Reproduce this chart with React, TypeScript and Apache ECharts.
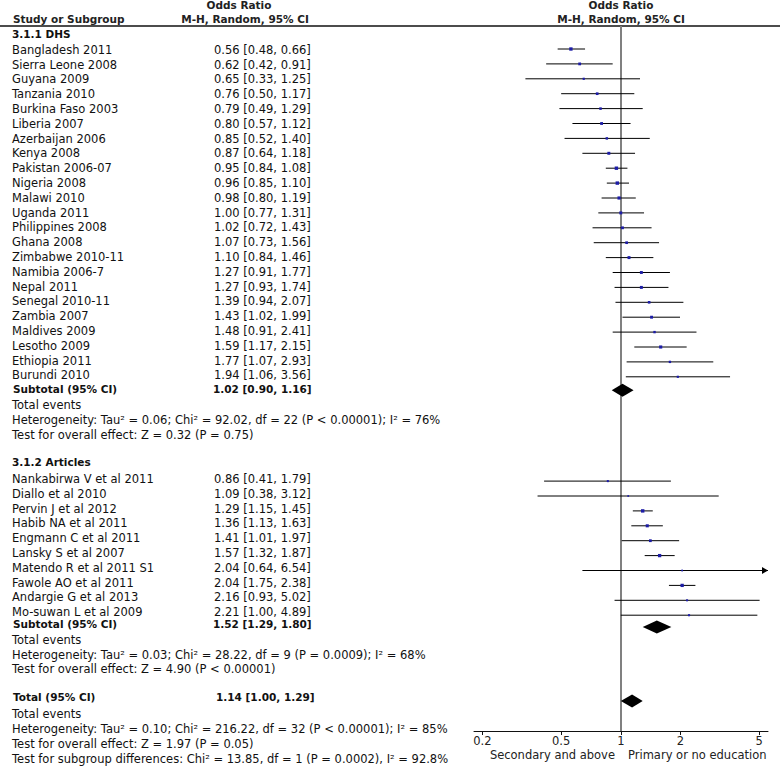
import React, { useEffect, useRef } from 'react';
import * as echarts from 'echarts';

// ---------- data ----------
const dhsStudies = ['Bangladesh 2011', 'Sierra Leone 2008', 'Guyana 2009', 'Tanzania 2010', 'Burkina Faso 2003', 'Liberia 2007', 'Azerbaijan 2006', 'Kenya 2008', 'Pakistan 2006-07', 'Nigeria 2008', 'Malawi 2010', 'Uganda 2011', 'Philippines 2008', 'Ghana 2008', 'Zimbabwe 2010-11', 'Namibia 2006-7', 'Nepal 2011', 'Senegal 2010-11', 'Zambia 2007', 'Maldives 2009', 'Lesotho 2009', 'Ethiopia 2011', 'Burundi 2010'];
const dhsOR = [0.56, 0.62, 0.65, 0.76, 0.79, 0.80, 0.85, 0.87, 0.95, 0.96, 0.98, 1.00, 1.02, 1.07, 1.10, 1.27, 1.27, 1.39, 1.43, 1.48, 1.59, 1.77, 1.94];
const dhsLow = [0.48, 0.42, 0.33, 0.50, 0.49, 0.57, 0.52, 0.64, 0.84, 0.85, 0.80, 0.77, 0.72, 0.73, 0.84, 0.91, 0.93, 0.94, 1.02, 0.91, 1.17, 1.07, 1.06];
const dhsHigh = [0.66, 0.91, 1.25, 1.17, 1.29, 1.12, 1.40, 1.18, 1.08, 1.10, 1.19, 1.31, 1.43, 1.56, 1.46, 1.77, 1.74, 2.07, 1.99, 2.41, 2.15, 2.93, 3.56];
const dhsWeights = [3.9, 2.9, 1.8, 2.7, 2.4, 3.0, 2.3, 3.2, 4.0, 4.0, 3.6, 3.2, 2.9, 2.7, 3.2, 3.1, 3.2, 2.6, 3.1, 2.2, 3.5, 2.1, 1.8];

const artStudies = ['Nankabirwa V et al 2011', 'Diallo et al 2010', 'Pervin J et al 2012', 'Habib NA et al 2011', 'Engmann C et al 2011', 'Lansky S et al 2007', 'Matendo R et al 2011 S1', 'Fawole AO et al 2011', 'Andargie G et al 2013', 'Mo-suwan L et al 2009'];
const artOR = [0.86, 1.09, 1.29, 1.36, 1.41, 1.57, 2.04, 2.04, 2.16, 2.21];
const artLow = [0.41, 0.38, 1.15, 1.13, 1.01, 1.32, 0.64, 1.75, 0.93, 1.00];
const artHigh = [1.79, 3.12, 1.45, 1.63, 1.97, 1.87, 6.54, 2.38, 5.02, 4.89];
const artWeights = [1.6, 0.9, 4.0, 3.4, 2.9, 3.8, 1.0, 3.8, 1.5, 1.7];

// subtotal / total: [OR, low, high]
const dhsSubtotal = [1.02, 0.90, 1.16];
const artSubtotal = [1.52, 1.29, 1.80];
const overallTotal = [1.14, 1.00, 1.29];

const dhsStats = [
  'Total events',
  'Heterogeneity: Tau\u00b2 = 0.06; Chi\u00b2 = 92.02, df = 22 (P < 0.00001); I\u00b2 = 76%',
  'Test for overall effect: Z = 0.32 (P = 0.75)',
];
const artStats = [
  'Total events',
  'Heterogeneity: Tau\u00b2 = 0.03; Chi\u00b2 = 28.22, df = 9 (P = 0.0009); I\u00b2 = 68%',
  'Test for overall effect: Z = 4.90 (P < 0.00001)',
];
const totalStats = [
  'Total events',
  'Heterogeneity: Tau\u00b2 = 0.10; Chi\u00b2 = 216.22, df = 32 (P < 0.00001); I\u00b2 = 85%',
  'Test for overall effect: Z = 1.97 (P = 0.05)',
  'Test for subgroup differences: Chi\u00b2 = 13.85, df = 1 (P = 0.0002), I\u00b2 = 92.8%',
];

const tickValues = [0.2, 0.5, 1, 2, 5];
const tickLabels = ['0.2', '0.5', '1', '2', '5'];

// ---------- layout ----------
const W = 780;
const H = 769;
const ROW_Y0 = 50;
const ROW_H = 14.9;
const NAME_X = 12;
const VALUE_X = 214;
const FONT = '"DejaVu Sans", "Liberation Sans", Arial, sans-serif';
const REG_SIZE = 11.5;
const BOLD_SIZE = 10.5;
const TEXT_COLOR = '#111';

const PLOT_LEFT = 474;
const PLOT_RIGHT = 768;
const PLOT_TOP = 26;
const PLOT_BOTTOM = 731;
const X_MIN = -0.741;
const X_MAX = 0.743;

const fmt = (a: number, b: number, c: number) => `${a.toFixed(2)} [${b.toFixed(2)}, ${c.toFixed(2)}]`;

// rows
const DHS_HEAD_ROW = -1.05;
const DHS_START = 0;
const DHS_SUB_ROW = 22.9;
const DHS_STAT_ROWS = [24, 25, 26];
const ART_HEAD_ROW = 27.85;
const ART_START = 29;
const ART_SUB_ROW = 38.8;
const ART_STAT_ROWS = [39.9, 40.9, 41.85];
const TOTAL_ROW = 43.75;
const TOTAL_STAT_ROWS = [44.9, 45.9, 46.9, 47.9];

type TextRow = { x: number; row: number; text: string; bold: boolean };
const textRows: TextRow[] = [];
textRows.push({ x: NAME_X, row: DHS_HEAD_ROW, text: '3.1.1 DHS', bold: true });
dhsStudies.forEach((s, i) => {
  textRows.push({ x: NAME_X, row: DHS_START + i, text: s, bold: false });
  textRows.push({ x: VALUE_X, row: DHS_START + i, text: fmt(dhsOR[i], dhsLow[i], dhsHigh[i]), bold: false });
});
textRows.push({ x: NAME_X + 1, row: DHS_SUB_ROW, text: 'Subtotal (95% CI)', bold: true });
textRows.push({ x: VALUE_X - 1, row: DHS_SUB_ROW, text: fmt(dhsSubtotal[0], dhsSubtotal[1], dhsSubtotal[2]), bold: true });
dhsStats.forEach((s, i) => textRows.push({ x: NAME_X, row: DHS_STAT_ROWS[i], text: s, bold: false }));
textRows.push({ x: NAME_X, row: ART_HEAD_ROW, text: '3.1.2 Articles', bold: true });
artStudies.forEach((s, i) => {
  textRows.push({ x: NAME_X, row: ART_START + i, text: s, bold: false });
  textRows.push({ x: VALUE_X, row: ART_START + i, text: fmt(artOR[i], artLow[i], artHigh[i]), bold: false });
});
textRows.push({ x: NAME_X + 1, row: ART_SUB_ROW, text: 'Subtotal (95% CI)', bold: true });
textRows.push({ x: VALUE_X - 1, row: ART_SUB_ROW, text: fmt(artSubtotal[0], artSubtotal[1], artSubtotal[2]), bold: true });
artStats.forEach((s, i) => textRows.push({ x: NAME_X, row: ART_STAT_ROWS[i], text: s, bold: false }));
textRows.push({ x: NAME_X + 1, row: TOTAL_ROW, text: 'Total (95% CI)', bold: true });
textRows.push({ x: VALUE_X + 2, row: TOTAL_ROW, text: fmt(overallTotal[0], overallTotal[1], overallTotal[2]), bold: true });
totalStats.forEach((s, i) => textRows.push({ x: NAME_X, row: TOTAL_STAT_ROWS[i], text: s, bold: false }));

// study marks
type Study = { row: number; or: number; low: number; high: number; w: number };
const studies: Study[] = [];
dhsStudies.forEach((_, i) => studies.push({ row: DHS_START + i, or: dhsOR[i], low: dhsLow[i], high: dhsHigh[i], w: dhsWeights[i] }));
artStudies.forEach((_, i) => studies.push({ row: ART_START + i, or: artOR[i], low: artLow[i], high: artHigh[i], w: artWeights[i] }));

const diamonds = [
  { row: DHS_SUB_ROW, v: dhsSubtotal },
  { row: ART_SUB_ROW, v: artSubtotal },
  { row: TOTAL_ROW, v: overallTotal },
];

const lg = Math.log10;

export default function App() {
  const ref = useRef<HTMLDivElement>(null);
  useEffect(() => {
    if (!ref.current) return;
    const chart = echarts.init(ref.current, undefined, { renderer: 'svg' });

    const y0Min = -3;
    const y0Max = 48.6;
    const y1Min = (PLOT_TOP - (ROW_Y0 - 1)) / ROW_H;
    const y1Max = (PLOT_BOTTOM - (ROW_Y0 - 1)) / ROW_H;

    const option: any = {
      animation: false,
      backgroundColor: '#fff',
      grid: [
        { left: 0, top: ROW_Y0 + y0Min * ROW_H, width: W, height: (y0Max - y0Min) * ROW_H, containLabel: false },
        { left: PLOT_LEFT, top: PLOT_TOP, width: PLOT_RIGHT - PLOT_LEFT, height: PLOT_BOTTOM - PLOT_TOP, containLabel: false },
      ],
      xAxis: [
        { type: 'value', gridIndex: 0, min: 0, max: W, show: false },
        {
          type: 'value',
          gridIndex: 1,
          min: X_MIN,
          max: X_MAX,
          splitLine: { show: false },
          axisLine: { show: true, onZero: false, lineStyle: { color: '#111', width: 1 } },
          axisTick: { show: true, customValues: tickValues.map(lg), length: 4, lineStyle: { color: '#111' } },
          axisLabel: {
            show: true,
            customValues: tickValues.map(lg),
            margin: 4,
            color: '#222',
            fontSize: 11.5,
            fontFamily: FONT,
            formatter: (v: number) => {
              let best = 0;
              tickValues.forEach((t, i) => { if (Math.abs(lg(t) - v) < Math.abs(lg(tickValues[best]) - v)) best = i; });
              return tickLabels[best];
            },
          },
        },
      ],
      yAxis: [
        { type: 'value', gridIndex: 0, min: y0Min, max: y0Max, inverse: true, show: false },
        { type: 'value', gridIndex: 1, min: y1Min, max: y1Max, inverse: true, show: false },
      ],
      graphic: [
        { type: 'line', shape: { x1: 0, y1: PLOT_TOP, x2: W, y2: PLOT_TOP }, style: { stroke: '#111', lineWidth: 1.6 }, silent: true },
        { type: 'text', x: 239, y: 5, style: { text: 'Odds Ratio', fill: '#222', fontSize: BOLD_SIZE, fontWeight: 'bold', fontFamily: FONT, align: 'center', verticalAlign: 'middle', textAlign: 'center', textVerticalAlign: 'middle' } },
        { type: 'text', x: 245, y: 19, style: { text: 'M-H, Random, 95% CI', fill: '#222', fontSize: BOLD_SIZE, fontWeight: 'bold', fontFamily: FONT, align: 'center', verticalAlign: 'middle', textAlign: 'center', textVerticalAlign: 'middle' } },
        { type: 'text', x: 13, y: 19, style: { text: 'Study or Subgroup', fill: '#222', fontSize: BOLD_SIZE, fontWeight: 'bold', fontFamily: FONT, align: 'left', verticalAlign: 'middle', textAlign: 'left', textVerticalAlign: 'middle' } },
        { type: 'text', x: 621, y: 5, style: { text: 'Odds Ratio', fill: '#222', fontSize: BOLD_SIZE, fontWeight: 'bold', fontFamily: FONT, align: 'center', verticalAlign: 'middle', textAlign: 'center', textVerticalAlign: 'middle' } },
        { type: 'text', x: 621, y: 19, style: { text: 'M-H, Random, 95% CI', fill: '#222', fontSize: BOLD_SIZE, fontWeight: 'bold', fontFamily: FONT, align: 'center', verticalAlign: 'middle', textAlign: 'center', textVerticalAlign: 'middle' } },
        { type: 'text', x: 615, y: 755, style: { text: 'Secondary and above', fill: '#222', fontSize: REG_SIZE, fontFamily: FONT, align: 'right', verticalAlign: 'middle', textAlign: 'right', textVerticalAlign: 'middle' } },
        { type: 'text', x: 628, y: 755, style: { text: 'Primary or no education', fill: '#222', fontSize: REG_SIZE, fontFamily: FONT, align: 'left', verticalAlign: 'middle', textAlign: 'left', textVerticalAlign: 'middle' } },
      ],
      series: [
        {
          type: 'custom',
          name: 'table',
          xAxisIndex: 0,
          yAxisIndex: 0,
          clip: false,
          silent: true,
          data: textRows.map((t) => [t.x, t.row]),
          renderItem: (params: any, api: any) => {
            const t = textRows[params.dataIndex];
            const p = api.coord([api.value(0), api.value(1)]);
            return {
              type: 'text',
              x: p[0],
              y: p[1],
              style: {
                text: t.text,
                fill: TEXT_COLOR,
                fontSize: t.bold ? BOLD_SIZE : REG_SIZE,
                fontWeight: t.bold ? 'bold' : 'normal',
                fontFamily: FONT,
                align: 'left',
                verticalAlign: 'middle',
              },
            };
          },
        },
        {
          type: 'custom',
          name: 'studies',
          xAxisIndex: 1,
          yAxisIndex: 1,
          clip: false,
          silent: true,
          z: 3,
          encode: { x: [1, 2, 3], y: 0 },
          data: studies.map((s) => [s.row, lg(s.or), lg(s.low), lg(s.high), s.w]),
          markLine: {
            silent: true,
            symbol: 'none',
            label: { show: false },
            lineStyle: { color: '#808080', width: 2, type: 'solid' },
            data: [{ xAxis: 0 }],
            z: 1,
          },
          renderItem: (params: any, api: any) => {
            const row = api.value(0);
            const hi = api.value(3);
            const clipped = hi > X_MAX;
            const pLow = api.coord([api.value(2), row]);
            const pHigh = api.coord([clipped ? X_MAX : hi, row]);
            const pOr = api.coord([api.value(1), row]);
            const size = 1.2 + api.value(4) * 0.55;
            const children: any[] = [
              { type: 'line', shape: { x1: pLow[0], y1: pLow[1], x2: pHigh[0], y2: pHigh[1] }, style: { stroke: '#000', lineWidth: 1 } },
            ];
            if (clipped) {
              children.push({
                type: 'polygon',
                shape: { points: [[pHigh[0], pHigh[1]], [pHigh[0] - 6, pHigh[1] - 3.5], [pHigh[0] - 6, pHigh[1] + 3.5]] },
                style: { fill: '#000' },
              });
            }
            children.push({
              type: 'rect',
              shape: { x: pOr[0] - size / 2, y: pOr[1] - size / 2, width: size, height: size },
              style: { fill: '#1c1ca6' },
            });
            return { type: 'group', children };
          },
        },
        {
          type: 'custom',
          name: 'diamonds',
          xAxisIndex: 1,
          yAxisIndex: 1,
          clip: false,
          silent: true,
          z: 4,
          encode: { x: [1, 2, 3], y: 0 },
          data: diamonds.map((d) => [d.row, lg(d.v[0]), lg(d.v[1]), lg(d.v[2])]),
          renderItem: (params: any, api: any) => {
            const row = api.value(0);
            const pOr = api.coord([api.value(1), row]);
            const pLow = api.coord([api.value(2), row]);
            const pHigh = api.coord([api.value(3), row]);
            const h = 6.5;
            return {
              type: 'polygon',
              shape: { points: [[pLow[0], pLow[1]], [pOr[0], pOr[1] - h], [pHigh[0], pHigh[1]], [pOr[0], pOr[1] + h]] },
              style: { fill: '#000' },
            };
          },
        },
      ],
    };
    chart.setOption(option);
    return () => chart.dispose();
  }, []);

  return (
    <div style={{ position: 'absolute', left: 0, top: 0, width: W, height: H, background: '#fff' }}>
      <div ref={ref} style={{ width: W, height: H }} />
    </div>
  );
}
